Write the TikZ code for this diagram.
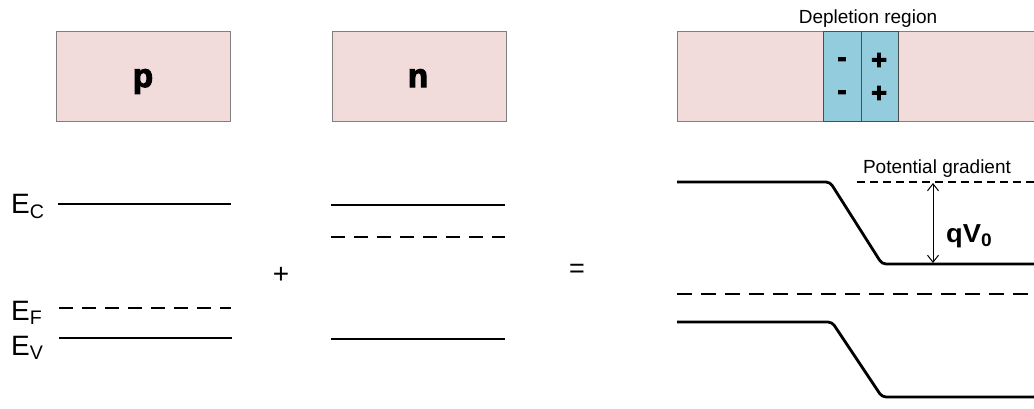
\documentclass[tikz,border=0pt]{standalone}
\usepackage{fontspec}
\setmainfont{Liberation Sans}
\newfontfamily\heavyfont[FakeBold=3.5]{Liberation Sans Bold}
\usetikzlibrary{arrows.meta}
\definecolor{pinkfill}{HTML}{F2DCDB}
\definecolor{bluefill}{HTML}{93CDDD}
\definecolor{boxline}{HTML}{7F7F7F}
\tikzset{
  slab/.style={draw=boxline, line width=0.9pt, fill=pinkfill},
  depl/.style={draw=boxline!60!black, line width=0.9pt, fill=bluefill},
  band/.style={line width=2.8pt, line cap=butt},
  fermi/.style={line width=2.8pt, dash pattern=on 14pt off 9pt},
  gradline/.style={line width=1.3pt, dash pattern=on 8pt off 5pt},
  elab/.style={font=\fontsize{28}{28}\selectfont, anchor=base west, inner sep=0pt},
  bigsym/.style={font=\fontsize{27}{27}\heavyfont, inner sep=0pt},
  small/.style={font=\fontsize{19}{19}\selectfont, inner sep=0pt, anchor=base},
  heavylab/.style={font=\fontsize{33}{33}\heavyfont, inner sep=0pt, anchor=base},
}
\begin{document}
\begin{tikzpicture}[x=1pt,y=-1pt]
\useasboundingbox (0,0) rectangle (1034,408);
% boxes
\node[slab, minimum width=174pt, minimum height=90pt, anchor=north west] (pbox) at (56,31) {};
\node[heavylab] (plab) at (143,87) {p};
\node[slab, minimum width=174pt, minimum height=90pt, anchor=north west] (nbox) at (332,31) {};
\node[heavylab] (nlab) at (418,87) {n};
\node[slab, minimum width=360pt, minimum height=90pt, anchor=north west] (jbox) at (677,31) {};
\node[depl, minimum width=38pt, minimum height=90pt, anchor=north west] (dneg) at (823,31) {};
\node[depl, minimum width=37pt, minimum height=90pt, anchor=north west] (dpos) at (861,31) {};
\node[bigsym] (m1) at (842,62) {-};
\node[bigsym] (m2) at (842,95) {-};
\node[bigsym] (p1) at (879,61) {+};
\node[bigsym] (p2) at (879,94) {+};
\node[small] (deplab) at (868,23) {Depletion region};
% p side bands
\node[elab] (ec) at (11,213) {E\textsubscript{C}};
\node[elab] (ef) at (11,320) {E\textsubscript{F}};
\node[elab] (ev) at (11,355) {E\textsubscript{V}};
\coordinate (pc1) at (58,204); \coordinate (pc2) at (231,204);
\coordinate (pf1) at (59,308); \coordinate (pf2) at (231,308);
\coordinate (pv1) at (59,338); \coordinate (pv2) at (232,338);
\draw[band] (pc1) -- (pc2);
\draw[fermi] (pf1) -- (pf2);
\draw[band] (pv1) -- (pv2);
% n side bands
\coordinate (nc1) at (331,205); \coordinate (nc2) at (505,205);
\coordinate (nf1) at (331,237); \coordinate (nf2) at (505,237);
\coordinate (nv1) at (331,339); \coordinate (nv2) at (505,339);
\draw[band] (nc1) -- (nc2);
\draw[fermi] (nf1) -- (nf2);
\draw[band] (nv1) -- (nv2);
% operators
\node[font=\fontsize{28}{28}\selectfont, inner sep=0pt] (plus) at (281,275) {+};
\node[font=\fontsize{27}{27}\selectfont, inner sep=0pt] (eq) at (577,271) {=};
% junction bands
\coordinate (jc1) at (677,182); \coordinate (jc2) at (830,182);
\coordinate (jc3) at (882,264); \coordinate (jc4) at (1034,264);
\draw[band, rounded corners=4pt] (jc1) -- (jc2) -- (jc3) -- (jc4);
\coordinate (jv1) at (677,322); \coordinate (jv2) at (832,322);
\coordinate (jv3) at (882,397); \coordinate (jv4) at (1034,397);
\draw[band, rounded corners=4pt] (jv1) -- (jv2) -- (jv3) -- (jv4);
\coordinate (jf1) at (677,294); \coordinate (jf2) at (1034,294);
\draw[fermi, dash pattern=on 15pt off 9pt] (jf1) -- (jf2);
\coordinate (g1) at (857,182); \coordinate (g2) at (1034,182);
\draw[gradline] (g1) -- (g2);
\node[small] (gradlab) at (937,173) {Potential gradient};
\coordinate (a1) at (933,183); \coordinate (a2) at (933,263);
\draw[line width=1pt, {Straight Barb[length=7pt,width=11pt]}-{Straight Barb[length=7pt,width=11pt]}] (a1) -- (a2);
\node[font=\fontsize{26}{26}\selectfont\bfseries, anchor=base west, inner sep=0pt, xscale=1.05] (qv) at (946,242) {qV\textsubscript{0}};
\end{tikzpicture}
\end{document}
